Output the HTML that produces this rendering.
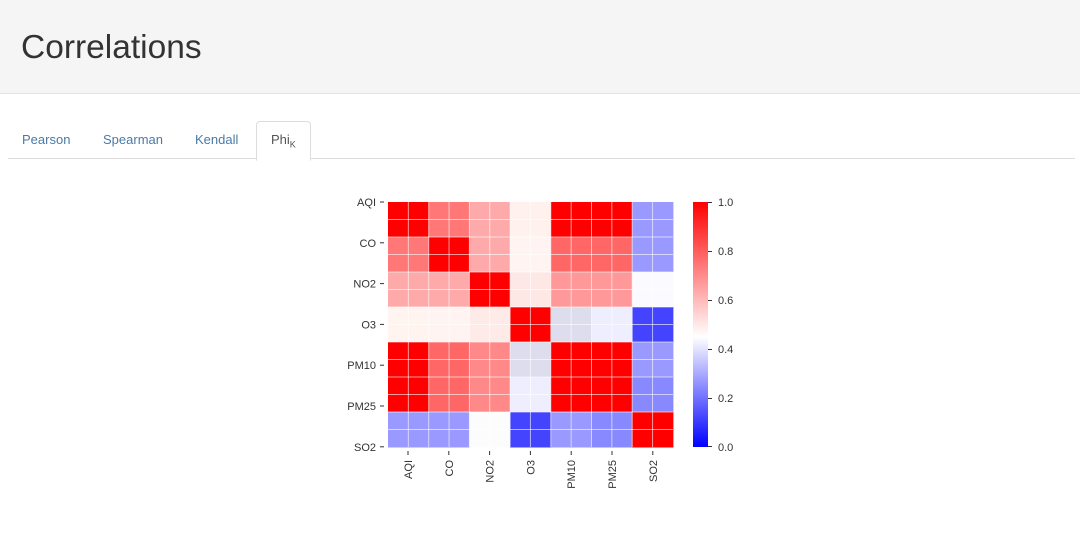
<!DOCTYPE html>
<html><head><style>
body{margin:0;width:1080px;height:538px;background:#fff;font-family:"Liberation Sans",sans-serif;position:relative;overflow:hidden}
.hdr{position:absolute;left:0;top:0;width:1080px;height:93px;background:#f5f5f5;border-bottom:1px solid #e3e3e3}
.hdr h1{position:absolute;left:21px;top:29px;margin:0;font-weight:400;font-size:33.5px;color:#333}
.tabs{position:absolute;left:8px;top:158px;width:1067px;border-top:1px solid #ddd}
.tab{position:absolute;top:132px;font-size:13px;color:#4a7aa8}
.act{position:absolute;left:256px;top:121px;width:53px;height:38px;border:1px solid #ddd;border-bottom:1px solid #fff;border-radius:4px 4px 0 0;background:#fff}
svg text{font-family:"Liberation Sans",sans-serif;font-size:11px;fill:#333}
</style></head><body>
<div class="hdr"><h1>Correlations</h1></div>
<div class="tabs"></div>
<div class="act"></div>
<div class="tab" style="left:22px">Pearson</div>
<div class="tab" style="left:103px">Spearman</div>
<div class="tab" style="left:195px">Kendall</div>
<div class="tab" style="left:271px;color:#555">Phi<sub style="font-size:9px">K</sub></div>
<svg width="1080" height="538" style="position:absolute;left:0;top:0">
<defs><linearGradient id="cb" x1="0" y1="1" x2="0" y2="0">
<stop offset="0" stop-color="#0000ff"/><stop offset="0.45" stop-color="#ffffff"/><stop offset="1" stop-color="#ff0000"/></linearGradient></defs>
<g id="hm"></g>
<rect x="693" y="202" width="15" height="245" fill="url(#cb)"/>
<g stroke="#333" stroke-width="1">
<line x1="708" y1="202.5" x2="712" y2="202.5"/><line x1="708" y1="251.5" x2="712" y2="251.5"/><line x1="708" y1="300.5" x2="712" y2="300.5"/><line x1="708" y1="349.5" x2="712" y2="349.5"/><line x1="708" y1="398.5" x2="712" y2="398.5"/><line x1="708" y1="446.5" x2="712" y2="446.5"/>
</g>
<text x="718" y="206">1.0</text><text x="718" y="255">0.8</text><text x="718" y="304">0.6</text><text x="718" y="353">0.4</text><text x="718" y="402">0.2</text><text x="718" y="451">0.0</text>
</svg>
<script>
var c=[["#f00","#f77","#faa","#fff2ee","#f00","#f00","#99f"],
["#f77","#f00","#faa","#fff4f2","#f66","#f66","#99f"],
["#faa","#faa","#f00","#fee8e6","#f99","#f99","#fafaff"],
["#fff4f0","#fff4f2","#feeae6","#f00","#dde","#eef","#44f"],
["#f00","#f66","#f88","#dde","#f00","#f00","#99f"],
["#f00","#f66","#f88","#eef","#f00","#f00","#88f"],
["#99f","#99f","#fcfcfc","#44f","#99f","#88f","#f00"]];
var L=["AQI","CO","NO2","O3","PM10","PM25","SO2"];
var x0=388,y0=202,w=40.7,h=35,s="";
for(var i=0;i<7;i++)for(var j=0;j<7;j++)s+='<rect x="'+(x0+j*w)+'" y="'+(y0+i*h)+'" width="'+(w+0.5)+'" height="'+(h+0.5)+'" fill="'+c[i][j]+'"/>';
for(var k=1;k<14;k++){s+='<line x1="'+(x0+k*w/2)+'" y1="'+y0+'" x2="'+(x0+k*w/2)+'" y2="'+(y0+7*h)+'" stroke="#fff" stroke-opacity="0.6" stroke-width="1"/>';
s+='<line x1="'+x0+'" y1="'+(y0+k*h/2)+'" x2="'+(x0+7*w)+'" y2="'+(y0+k*h/2)+'" stroke="#fff" stroke-opacity="0.6" stroke-width="1"/>';}
for(var i=0;i<7;i++){var ty=202+i*40.8;
s+='<line x1="380" y1="'+ty+'" x2="384" y2="'+ty+'" stroke="#333"/>';
s+='<text x="376" y="'+(ty+4)+'" text-anchor="end">'+L[i]+'</text>';
var tx=408+i*40.8;
s+='<line x1="'+tx+'" y1="451" x2="'+tx+'" y2="455" stroke="#333"/>';
s+='<text transform="translate('+(tx+4)+',460) rotate(-90)" text-anchor="end">'+L[i]+'</text>';}
document.getElementById("hm").innerHTML=s;
</script>
</body></html>
